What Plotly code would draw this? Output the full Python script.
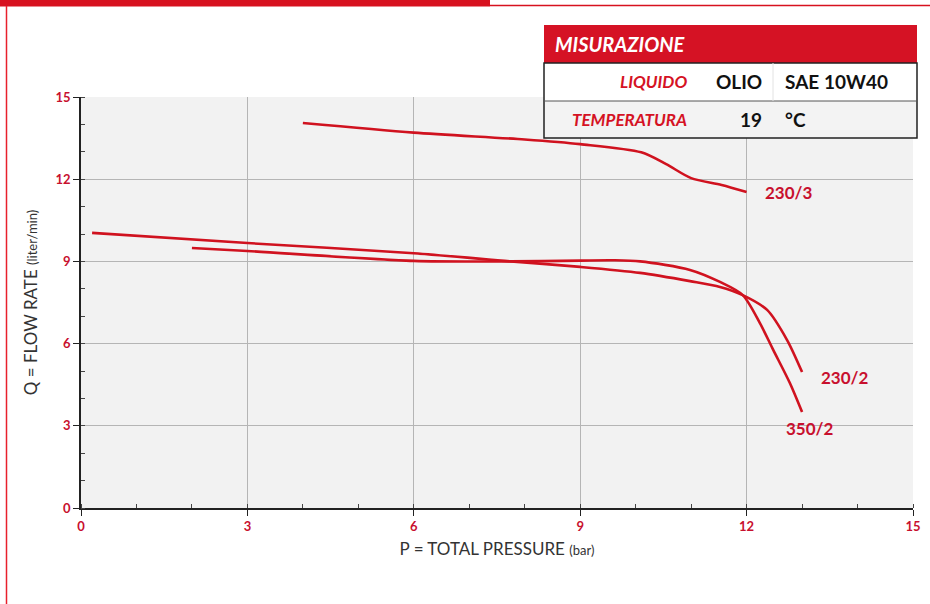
import plotly.graph_objects as go

# ---- data ----
p_230_3 = [4.0, 6.0, 8.0, 9.0, 10.1, 10.55, 11.0, 11.55, 12.0]
q_230_3 = [14.05, 13.7, 13.45, 13.28, 12.98, 12.55, 12.04, 11.79, 11.53]

p_230_2 = [0.2, 3.0, 6.0, 7.75, 9.0, 10.08, 10.98, 11.52, 11.93, 12.37, 12.73, 13.0]
q_230_2 = [10.04, 9.67, 9.3, 9.0, 8.8, 8.58, 8.28, 8.07, 7.77, 7.23, 6.13, 4.96]

p_350_2 = [2.0, 3.0, 6.0, 7.75, 9.0, 9.6, 10.08, 10.98, 11.52, 11.93, 12.24, 12.48, 12.78, 13.0]
q_350_2 = [9.49, 9.38, 9.02, 9.0, 9.03, 9.04, 9.0, 8.69, 8.25, 7.77, 6.75, 5.77, 4.56, 3.5]

series_names = ["230/3", "230/2", "350/2"]
tick_vals = [0, 3, 6, 9, 12, 15]
tick_text = ["0", "3", "6", "9", "12", "15"]

RED = "#d0121f"
TXT_RED = "#c8102e"
FONT = "Lato"

# plot-area geometry in pixels (for decorations)
W, H = 930, 604
L, R, T, B = 81, 913, 97, 508


def px(x):
    return (x - L) / (R - L)


def py(y):
    return (B - y) / (B - T)


fig = go.Figure()
for name, xs, ys in [(series_names[0], p_230_3, q_230_3),
                     (series_names[1], p_230_2, q_230_2),
                     (series_names[2], p_350_2, q_350_2)]:
    fig.add_trace(go.Scatter(x=xs, y=ys, mode="lines", name=name,
                             line=dict(color=RED, width=2.6, shape="spline", smoothing=0.8),
                             hoverinfo="skip"))

# curve labels
label_pos = [(p_230_3[-1], q_230_3[-1], 0.3, 0.0),
             (p_230_2[-1], q_230_2[-1], 0.3, -0.2),
             (p_350_2[-1], q_350_2[-1], -0.33, -0.6)]
for name, (x, y, dx, dy) in zip(series_names, label_pos):
    fig.add_annotation(x=x + dx, y=y + dy, text=name, showarrow=False,
                       xanchor="left", yanchor="middle",
                       font=dict(family=FONT, size=17, color=TXT_RED, weight="bold"))

shapes = []
# page frame decorations
shapes.append(dict(type="rect", xref="paper", yref="paper",
                   x0=px(0), x1=px(490), y0=py(6.5), y1=py(0),
                   fillcolor="#d7111f", line=dict(width=0), layer="above"))
shapes.append(dict(type="line", xref="paper", yref="paper",
                   x0=px(490), x1=px(930), y0=py(5.5), y1=py(5.5),
                   line=dict(color="#d7111f", width=1.5)))
shapes.append(dict(type="line", xref="paper", yref="paper",
                   x0=px(6.5), x1=px(6.5), y0=py(6), y1=py(604),
                   line=dict(color="#e8202c", width=1.5)))

# table
tx0, tx1 = 544, 917
ty_h0, ty_h1, ty_r1, ty_r2 = 25, 63, 101, 138
shapes.append(dict(type="rect", xref="paper", yref="paper",
                   x0=px(tx0), x1=px(tx1), y0=py(ty_h1), y1=py(ty_h0),
                   fillcolor="#d51224", line=dict(width=0), layer="above"))
shapes.append(dict(type="rect", xref="paper", yref="paper",
                   x0=px(tx0), x1=px(tx1), y0=py(ty_r1), y1=py(ty_h1),
                   fillcolor="white", line=dict(width=0), layer="above"))
shapes.append(dict(type="rect", xref="paper", yref="paper",
                   x0=px(tx0), x1=px(tx1), y0=py(ty_r2), y1=py(ty_r1),
                   fillcolor="#f3f3f3", line=dict(width=0), layer="above"))
shapes.append(dict(type="rect", xref="paper", yref="paper",
                   x0=px(tx0), x1=px(tx1), y0=py(ty_r2), y1=py(ty_h1),
                   fillcolor="rgba(0,0,0,0)", line=dict(color="#222", width=1.5), layer="above"))
shapes.append(dict(type="line", xref="paper", yref="paper",
                   x0=px(tx0), x1=px(tx1), y0=py(ty_r1), y1=py(ty_r1),
                   line=dict(color="#555", width=1), layer="above"))
shapes.append(dict(type="line", xref="paper", yref="paper",
                   x0=px(773), x1=px(773), y0=py(ty_r1), y1=py(ty_h1),
                   line=dict(color="#e2e2e2", width=1), layer="above"))

fig.update_layout(shapes=shapes)

table_labels = ["LIQUIDO", "TEMPERATURA"]
table_vals = ["OLIO", "19"]
table_units = ["SAE 10W40", "°C"]
row_centers = [(ty_h1 + ty_r1) / 2, (ty_r1 + ty_r2) / 2]

fig.add_annotation(xref="paper", yref="paper", x=px(553), y=py((ty_h0 + ty_h1) / 2),
                   text="MISURAZIONE", showarrow=False, xanchor="left", yanchor="middle",
                   font=dict(family=FONT, size=20, color="white", weight="bold", style="italic"))
for lab, val, unit, yc in zip(table_labels, table_vals, table_units, row_centers):
    fig.add_annotation(xref="paper", yref="paper", x=px(689), y=py(yc), text=lab,
                       showarrow=False, xanchor="right", yanchor="middle",
                       font=dict(family=FONT, size=17, color="#d51224", weight="bold", style="italic"))
    fig.add_annotation(xref="paper", yref="paper", x=px(764), y=py(yc), text=val,
                       showarrow=False, xanchor="right", yanchor="middle",
                       font=dict(family=FONT, size=19, color="#111", weight="bold"))
    fig.add_annotation(xref="paper", yref="paper", x=px(783), y=py(yc), text=unit,
                       showarrow=False, xanchor="left", yanchor="middle",
                       font=dict(family=FONT, size=19, color="#111", weight="bold"))

axis_common = dict(
    range=[0, 15], tickvals=tick_vals, ticktext=tick_text,
    showgrid=True, gridcolor="#b5b5b5", gridwidth=1,
    showline=True, linecolor="#222", linewidth=1.5,
    ticks="outside", ticklen=6, tickcolor="#222", tickwidth=1.2,
    minor=dict(ticks="inside", ticklen=4, dtick=1, tick0=0, tickcolor="#444", showgrid=False),
    tickfont=dict(family=FONT, size=13, color=TXT_RED, weight="bold"),
    zeroline=False, fixedrange=True,
)

fig.update_xaxes(**axis_common,
                 title=dict(text="P = TOTAL PRESSURE <span style='font-size:13px'>(bar)</span>",
                            font=dict(family=FONT, size=17, color="#333"), standoff=10))
fig.update_yaxes(**axis_common,
                 title=dict(text="Q = FLOW RATE <span style='font-size:13px'>(liter/min)</span>",
                            font=dict(family=FONT, size=17, color="#333"), standoff=14))

fig.update_layout(
    width=W, height=H,
    margin=dict(l=L, r=W - R, t=T, b=H - B, autoexpand=False),
    plot_bgcolor="#f2f2f2", paper_bgcolor="white",
    showlegend=False,
)

fig.write_html("out.html",
               config={"displayModeBar": False},
               post_script="document.body.style.margin='0px';document.body.style.overflow='hidden';")
